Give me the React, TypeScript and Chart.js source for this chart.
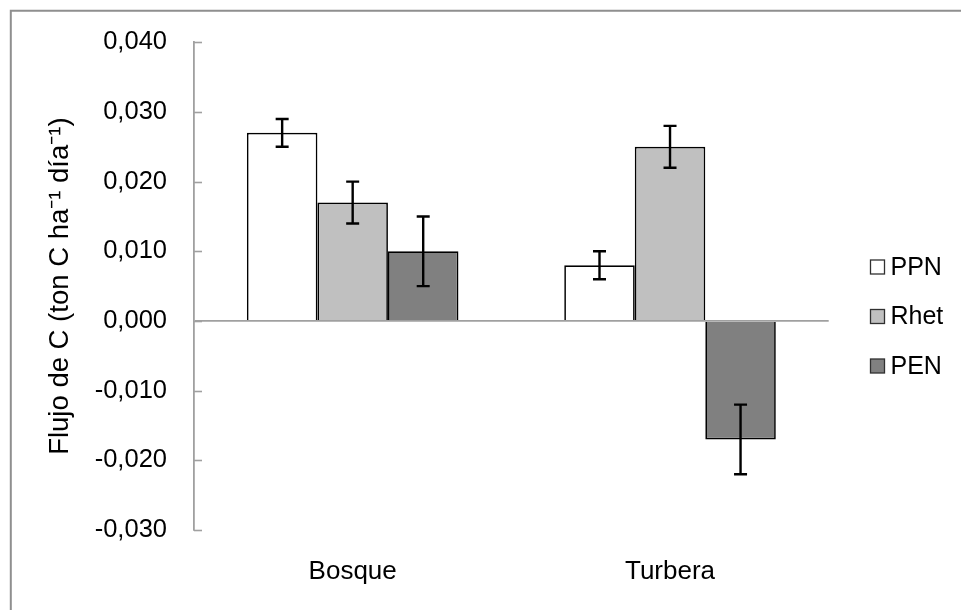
import React, { useEffect, useRef } from 'react';
import { Chart, registerables } from 'chart.js';

Chart.register(...registerables);

// ---- data ----
const categories = ['Bosque', 'Turbera'];
const seriesNames = ['PPN', 'Rhet', 'PEN'];
const ppnValues = [0.027, 0.008];
const rhetValues = [0.017, 0.025];
const penValues = [0.01, -0.017];
const ppnErrors = [0.002, 0.002];
const rhetErrors = [0.003, 0.003];
const penErrors = [0.005, 0.005];
const yMin = -0.03;
const yMax = 0.04;
const yStep = 0.01;
const yTitle = 'Flujo de C (ton C ha\u207B\u00B9 día\u207B\u00B9)';

const seriesFills = ['#ffffff', '#c0c0c0', '#808080'];
const FONT = "'Liberation Sans', Arial, sans-serif";
const AXIS_GRAY = '#a0a0a0';

const fmt = (v: number) => (Math.round(v * 1000) / 1000).toFixed(3).replace('.', ',');

const frameBorder = {
  id: 'frameBorder',
  beforeDraw(chart: any) {
    const ctx = chart.ctx;
    ctx.save();
    ctx.strokeStyle = '#8f8f8f';
    ctx.lineWidth = 2;
    ctx.beginPath();
    ctx.moveTo(10.8, chart.height);
    ctx.lineTo(10.8, 10.8);
    ctx.lineTo(chart.width, 10.8);
    ctx.stroke();
    ctx.restore();
  },
};

const innerTicks = {
  id: 'innerTicks',
  afterDraw(chart: any) {
    const ctx = chart.ctx;
    const y = chart.scales.y;
    const left = chart.chartArea.left;
    ctx.save();
    ctx.strokeStyle = AXIS_GRAY;
    ctx.lineWidth = 1.6;
    y.ticks.forEach((t: any) => {
      const py = Math.round(y.getPixelForValue(t.value)) + 0.5;
      ctx.beginPath();
      ctx.moveTo(left, py);
      ctx.lineTo(left + 8, py);
      ctx.stroke();
    });
    ctx.restore();
  },
};

const errorBars = {
  id: 'errorBars',
  afterDatasetsDraw(chart: any) {
    const ctx = chart.ctx;
    const y = chart.scales.y;
    ctx.save();
    ctx.strokeStyle = '#000';
    ctx.lineWidth = 2.4;
    chart.data.datasets.forEach((ds: any, i: number) => {
      const meta = chart.getDatasetMeta(i);
      meta.data.forEach((el: any, j: number) => {
        const v = ds.data[j];
        const e = ds.errors[j];
        const x = el.x;
        const yt = y.getPixelForValue(v + e);
        const yb = y.getPixelForValue(v - e);
        ctx.beginPath();
        ctx.moveTo(x, yt);
        ctx.lineTo(x, yb);
        ctx.moveTo(x - 6.5, yt);
        ctx.lineTo(x + 6.5, yt);
        ctx.moveTo(x - 6.5, yb);
        ctx.lineTo(x + 6.5, yb);
        ctx.stroke();
      });
    });
    ctx.restore();
  },
};

const sideLegend = {
  id: 'sideLegend',
  afterDraw(chart: any) {
    const ctx = chart.ctx;
    ctx.save();
    chart.data.datasets.forEach((ds: any, i: number) => {
      const cy = 267 + i * 49.5;
      ctx.fillStyle = ds.backgroundColor;
      ctx.fillRect(870.5, cy - 7, 14, 14);
      ctx.strokeStyle = '#303030';
      ctx.lineWidth = 1.3;
      ctx.strokeRect(870.5, cy - 7, 14, 14);
      ctx.fillStyle = '#000';
      ctx.font = `25px ${FONT}`;
      ctx.textAlign = 'left';
      ctx.textBaseline = 'middle';
      ctx.fillText(ds.label, 890.5, cy + 1);
    });
    ctx.restore();
  },
};

export default function App() {
  const ref = useRef<HTMLCanvasElement | null>(null);

  useEffect(() => {
    if (!ref.current) return;
    const values = [ppnValues, rhetValues, penValues];
    const errors = [ppnErrors, rhetErrors, penErrors];
    const chart = new Chart(ref.current, {
      type: 'bar',
      data: {
        labels: categories,
        datasets: seriesNames.map((name, i) => ({
          label: name,
          data: values[i],
          errors: errors[i],
          backgroundColor: seriesFills[i],
          borderColor: '#000',
          borderWidth: 1.7,
          categoryPercentage: 2 / 3,
          barPercentage: 1,
        })) as any,
      },
      options: {
        animation: false,
        responsive: false,
        events: [],
        layout: { padding: { top: 40, right: 132.3, left: 0, bottom: 0 } },
        plugins: {
          legend: { display: false },
          tooltip: { enabled: false },
        },
        scales: {
          x: {
            grid: { display: false, drawTicks: false },
            border: { display: false },
            ticks: { color: '#000', font: { family: FONT, size: 26 }, padding: 26 },
            afterFit: (s: any) => {
              s.height = 80;
            },
          },
          y: {
            min: yMin,
            max: yMax,
            ticks: {
              stepSize: yStep,
              color: '#000',
              font: { family: FONT, size: 25.5 },
              padding: 27,
              callback: (v: any) => fmt(Number(v)),
            },
            grid: {
              drawTicks: false,
              tickLength: 0,
              color: (c: any) => (c.tick && Math.abs(c.tick.value) < 1e-9 ? AXIS_GRAY : 'rgba(0,0,0,0)'),
              lineWidth: 1.8,
            },
            border: { display: true, color: AXIS_GRAY, width: 1.8 },
            title: {
              display: true,
              text: yTitle,
              color: '#000',
              font: { family: FONT, size: 27.5 },
              padding: { top: 44, bottom: 0 },
            },
            afterFit: (s: any) => {
              s.width = 194;
            },
          },
        },
      } as any,
      plugins: [frameBorder, innerTicks, errorBars, sideLegend],
    });
    return () => chart.destroy();
  }, []);

  return (
    <div style={{ position: 'absolute', left: 0, top: 0, width: 961, height: 610, background: '#fff' }}>
      <canvas ref={ref} width={961} height={610} />
    </div>
  );
}
